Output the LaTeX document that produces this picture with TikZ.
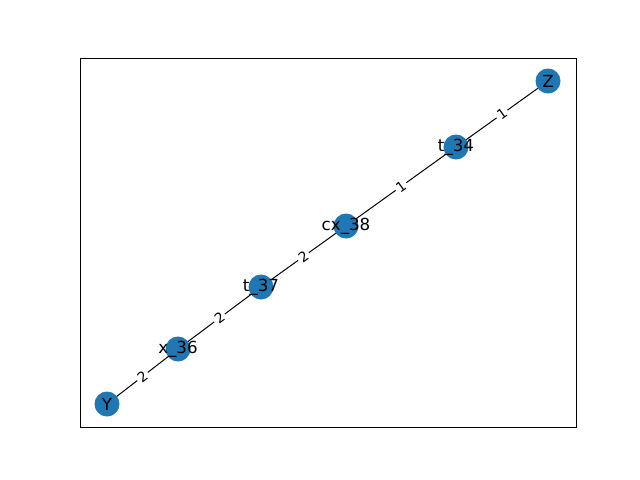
\documentclass[tikz,border=0pt]{standalone}
\usepackage{fontspec}
\setmainfont{DejaVu Sans}
\definecolor{tabblue}{HTML}{1F77B4}
\begin{document}
\begin{tikzpicture}[x=0.72pt,y=-0.72pt,
  vertex/.style={circle,fill=tabblue,minimum size=18pt,inner sep=0pt},
  vlabel/.style={font=\fontsize{12}{14}\selectfont,inner sep=0pt},
  edge/.style={draw=black,line width=0.72pt},
  elabel/.style={fill=white,font=\fontsize{10}{12}\selectfont,inner sep=1.5pt,rounded corners=2pt,sloped}]
\useasboundingbox (0,0) rectangle (640,480);
\draw[line width=0.6pt] (80,58) rectangle (576,427);
\coordinate (Zp) at (548,81);
\coordinate (T34p) at (456,147);
\coordinate (CXp) at (346,226);
\coordinate (T37p) at (261,287);
\coordinate (X36p) at (178,349);
\coordinate (Yp) at (107,404);
\path[edge] (Zp) -- node[elabel]{1} (T34p);
\path[edge] (T34p) -- node[elabel]{1} (CXp);
\path[edge] (CXp) -- node[elabel]{2} (T37p);
\path[edge] (T37p) -- node[elabel]{2} (X36p);
\path[edge] (X36p) -- node[elabel]{2} (Yp);
\node[vertex] (Z) at (Zp) {};
\node[vertex] (T34) at (T34p) {};
\node[vertex] (CX) at (CXp) {};
\node[vertex] (T37) at (T37p) {};
\node[vertex] (X36) at (X36p) {};
\node[vertex] (Y) at (Yp) {};
\node[vlabel] at (Z) {Z};
\node[vlabel] at (T34) {t\_34};
\node[vlabel] at (CX) {cx\_38};
\node[vlabel] at (T37) {t\_37};
\node[vlabel] at (X36) {x\_36};
\node[vlabel] at (Y) {Y};
\end{tikzpicture}
\end{document}
